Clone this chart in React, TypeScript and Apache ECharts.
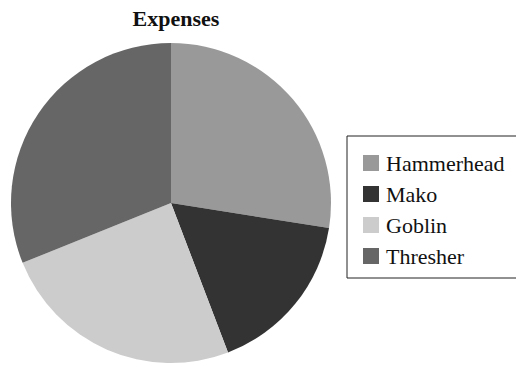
import React, { useEffect, useRef } from "react";
import * as echarts from "echarts";

const categories = ["Hammerhead", "Mako", "Goblin", "Thresher"];
const values = [27.5, 16.7, 24.7, 31.1];
const colors = ["#999999", "#333333", "#cccccc", "#666666"];
const title = "Expenses";

export default function App() {
  const ref = useRef<HTMLDivElement>(null);
  useEffect(() => {
    if (!ref.current) return;
    const chart = echarts.init(ref.current, undefined, { renderer: "svg" });
    const font = "Liberation Serif";
    chart.setOption({
      animation: false,
      backgroundColor: "#ffffff",
      title: {
        text: title,
        left: 171,
        textAlign: "center",
        top: 2,
        textStyle: { fontFamily: font, fontSize: 22, fontWeight: "bold", color: "#111" },
      },
      legend: {
        orient: "vertical",
        left: 347,
        top: 136,
        data: categories,
        itemWidth: 16,
        itemHeight: 16,
        itemGap: 9,
        icon: "rect",
        padding: [16, 90, 11, 16],
        borderColor: "#222",
        borderWidth: 1,
        selectedMode: false,
        textStyle: { fontFamily: font, fontSize: 22, color: "#111", padding: [0, 0, 0, 2] },
      },
      series: [
        {
          type: "pie",
          center: [171, 203],
          radius: 160,
          startAngle: 90,
          clockwise: true,
          label: { show: false },
          labelLine: { show: false },
          emphasis: { disabled: true },
          itemStyle: { borderWidth: 0 },
          data: categories.map((c, i) => ({ name: c, value: values[i], itemStyle: { color: colors[i] } })),
        },
      ],
    });
    return () => chart.dispose();
  }, []);
  return <div ref={ref} style={{ position: "fixed", left: 0, top: 0, width: 516, height: 365 }} />;
}
